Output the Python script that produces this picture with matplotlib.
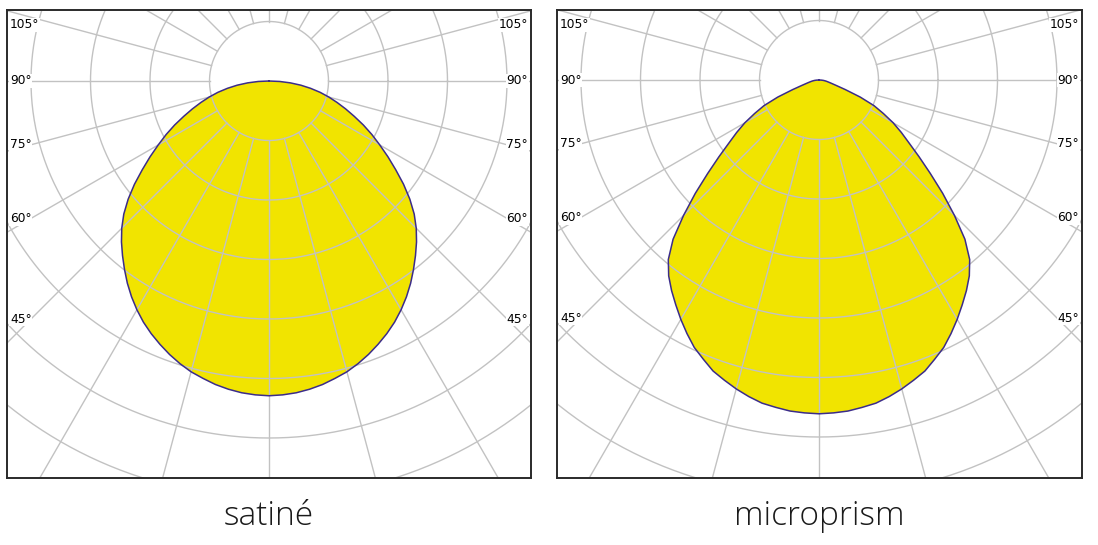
import numpy as np
import matplotlib
matplotlib.use("Agg")
import matplotlib.pyplot as plt

# ---- data (luminous intensity, in grid-ring units, symmetric about 0 deg) ----
angles_deg = [0, 2.5, 5, 7.5, 10, 12.5, 15, 17.5, 20, 22.5, 25, 27.5, 30, 32.5, 35, 37.5,
              40, 42.5, 45, 47.5, 50, 52.5, 55, 57.5, 60, 62.5, 65, 67.5, 70, 72.5, 75,
              77.5, 80, 82.5, 85, 87.5, 90]
satine = [5.29, 5.28, 5.26, 5.225, 5.18, 5.12, 5.06, 4.98, 4.89, 4.79, 4.685, 4.57,
          4.44, 4.30, 4.15, 3.99, 3.83, 3.67, 3.50, 3.31, 3.09, 2.85, 2.60, 2.37,
          2.15, 1.95, 1.75, 1.55, 1.37, 1.20, 1.04, 0.88, 0.71, 0.54, 0.36, 0.18, 0.0]
microprism = [5.61, 5.60, 5.585, 5.55, 5.515, 5.45, 5.375, 5.29, 5.205, 5.08, 4.96, 4.805,
              4.645, 4.48, 4.32, 4.15, 3.94, 3.63, 3.22, 2.82, 2.44, 2.12, 1.85, 1.64,
              1.44, 1.22, 1.02, 0.75, 0.47, 0.30, 0.215, 0.165, 0.13, 0.10, 0.07, 0.035, 0.0]
titles = ["satiné", "microprism"]
label_angles = [105, 90, 75, 60, 45]
ring_radii = list(range(1, 13))
spoke_angles = list(range(0, 360, 15))

# ---- styling ----
W, H = 1098, 545
PX = 59.5  # pixels per ring unit
YELLOW = "#F1E400"
EDGE = "#3B2C8A"
GRID = "#C2C2C2"

fig = plt.figure(figsize=(W / 100, H / 100), dpi=100)
fig.patch.set_facecolor("white")

panels = [
    dict(left=7, right=531, top=10, bottom=478, cx=269, cy=81),
    dict(left=557, right=1082, top=10, bottom=478, cx=819, cy=80),
]
series = [satine, microprism]

a = np.asarray(angles_deg, dtype=float)
for p, vals, title in zip(panels, series, titles):
    ax = fig.add_axes([p["left"] / W, 1 - p["bottom"] / H,
                       (p["right"] - p["left"]) / W, (p["bottom"] - p["top"]) / H])
    x0, x1 = (p["left"] - p["cx"]) / PX, (p["right"] - p["cx"]) / PX
    y0, y1 = -(p["bottom"] - p["cy"]) / PX, (p["cy"] - p["top"]) / PX
    ax.set_xlim(x0, x1)
    ax.set_ylim(y0, y1)
    ax.set_xticks([])
    ax.set_yticks([])
    for s in ax.spines.values():
        s.set_linewidth(1.4)
        s.set_color("#2a2a2a")
        s.set_zorder(10)

    v = np.asarray(vals, dtype=float)
    th = np.deg2rad(np.concatenate([-a[::-1], a[1:]]))
    I = np.concatenate([v[::-1], v[1:]])
    xs = I * np.sin(th)
    ys = -I * np.cos(th)
    ax.fill(xs, ys, color=YELLOW, lw=0, zorder=1)

    t = np.linspace(0, 2 * np.pi, 721)
    for r in ring_radii:
        ax.plot(r * np.cos(t), r * np.sin(t), color=GRID, lw=1.0, zorder=2)
    for ang in spoke_angles:
        rad = np.deg2rad(ang)
        ax.plot([np.sin(rad) * 1, np.sin(rad) * 15], [-np.cos(rad) * 1, -np.cos(rad) * 15],
                color=GRID, lw=1.0, zorder=2)

    ax.plot(xs, ys, color=EDGE, lw=1.1, zorder=4, solid_joinstyle="round")

    for ang in label_angles:
        rad = np.deg2rad(ang)
        yl = -4.0 * np.cos(rad) / np.sin(rad)
        yl = min(yl, y1 - 0.25)
        kw = dict(fontsize=8.8, va="center", zorder=6,
                  bbox=dict(facecolor="white", edgecolor="none", pad=0.6))
        ax.text(x0 + 0.05, yl, f"{ang}°", ha="left", **kw)
        ax.text(x1 - 0.05, yl, f"{ang}°", ha="right", **kw)

    fig.text(p["cx"] / W, 1 - 516 / H, title, ha="center", va="center",
             fontsize=24, family="Open Sans", weight="light", color="#1a1a1a")

fig.savefig("out.png", dpi=100)
